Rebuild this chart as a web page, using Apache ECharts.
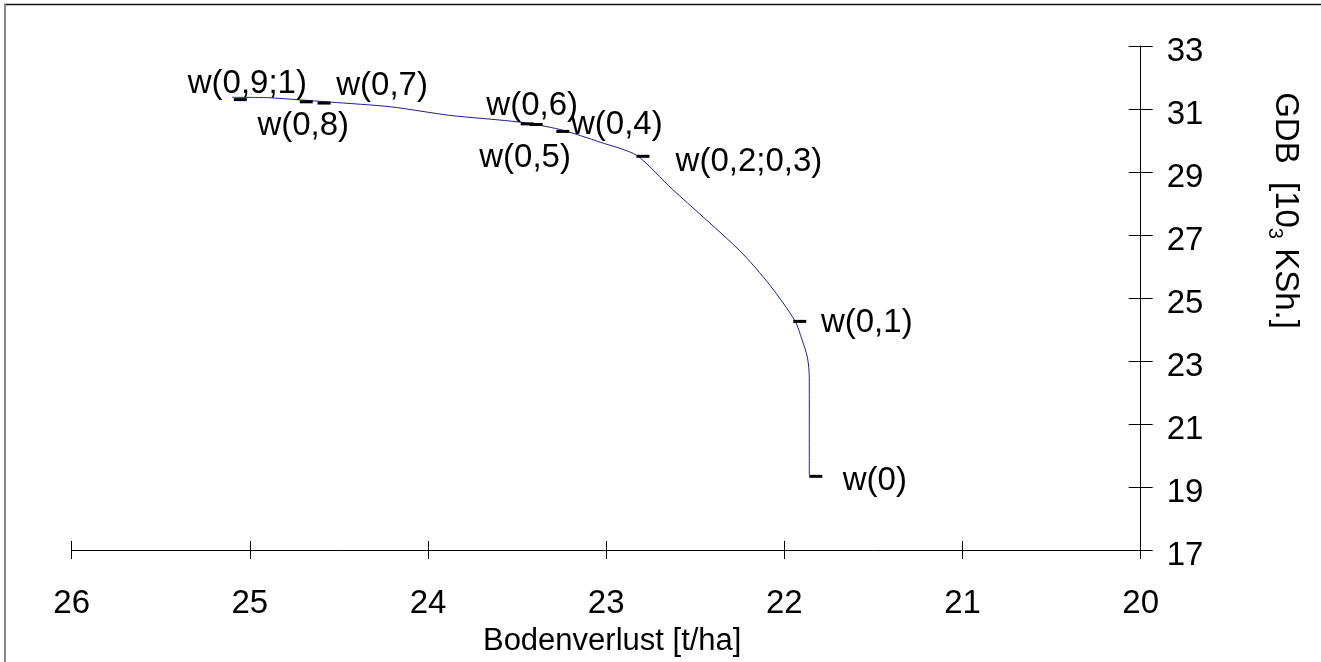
<!DOCTYPE html>
<html>
<head>
<meta charset="utf-8">
<script src="https://cdn.jsdelivr.net/npm/echarts@6/dist/echarts.min.js"></script>
<style>
html,body{margin:0;padding:0;background:#fff;overflow:hidden;}
#chart{position:absolute;left:0;top:0;width:1321px;height:662px;}
</style>
</head>
<body>
<div id="chart"></div>
<script>
// ---- data ----
const pointLabels = ['w(0,9;1)', 'w(0,8)', 'w(0,7)', 'w(0,6)', 'w(0,5)', 'w(0,4)', 'w(0,2;0,3)', 'w(0,1)', 'w(0)'];
const pointLoss = [25.09, 24.72, 24.62, 23.48, 23.43, 23.28, 22.83, 21.95, 21.86];
const pointGdb  = [31.33, 31.26, 31.22, 30.56, 30.54, 30.32, 29.53, 24.29, 19.37];

const curveLoss = [25.10, 24.90, 24.72, 24.55, 24.21, 23.88, 23.48, 23.26, 23.03, 22.83, 22.63, 22.25, 22.08, 21.94, 21.90, 21.87, 21.86, 21.86];
const curveGdb  = [31.37, 31.36, 31.29, 31.22, 31.07, 30.80, 30.58, 30.35, 29.94, 29.53, 28.46, 26.50, 25.40, 24.27, 23.66, 23.10, 22.47, 19.38];

const xTicks = [20, 21, 22, 23, 24, 25, 26];
const yTicks = [17, 19, 21, 23, 25, 27, 29, 31, 33];

const xName = 'Bodenverlust [t/ha]';
const yName = 'GDB  [10{s|3} KSh.]';

// ---- layout (label offsets from marker centre, px) ----
const labelOffsets = [[7, -16], [-3, 24], [58, -17], [5, -18], [-11, 33], [54, -7], [106, 6], [67, 2], [59, 5]];

const FONT = 'Liberation Sans, Arial, sans-serif';
const FS = 33;

const el = document.getElementById('chart');
const chart = echarts.init(el, null, {renderer: 'canvas', width: 1321, height: 662});

const curveData = curveLoss.map((v, i) => [v, curveGdb[i]]);
const pointData = pointLoss.map((v, i) => ({
  value: [v, pointGdb[i]],
  name: pointLabels[i],
  label: {offset: labelOffsets[i]}
}));

const grid = {left: 71.7, right: 180.3, top: 46, bottom: 108.7, containLabel: false};

const baseX = {
  type: 'value', min: 20, max: 26, interval: 1, inverse: true, position: 'bottom',
  splitLine: {show: false}
};
const baseY = {
  type: 'value', min: 17, max: 33, position: 'right',
  splitLine: {show: false}
};

chart.setOption({
  animation: false,
  backgroundColor: '#ffffff',
  grid: grid,
  xAxis: [
    Object.assign({}, baseX, {
      axisLine: {show: true, onZero: false, lineStyle: {color: '#000', width: 1}},
      axisTick: {show: true, inside: false, length: 9, lineStyle: {color: '#000', width: 1}},
      axisLabel: {show: true, margin: 37, fontSize: FS, fontFamily: FONT, color: '#000',
        customValues: xTicks},
      name: xName, nameLocation: 'middle', nameGap: 76,
      nameTextStyle: {fontSize: 31, fontFamily: FONT, color: '#000', padding: [0, 0, 0, 12]}
    }),
    Object.assign({}, baseX, {
      axisLine: {show: false, onZero: false},
      axisTick: {show: true, inside: true, length: 9, lineStyle: {color: '#000', width: 1}},
      axisLabel: {show: false}
    })
  ],
  yAxis: [
    Object.assign({}, baseY, {
      axisLine: {show: true, onZero: false, lineStyle: {color: '#000', width: 1}},
      axisTick: {show: true, inside: false, length: 12, customValues: yTicks, lineStyle: {color: '#000', width: 1}},
      axisLabel: {show: true, margin: 26, fontSize: FS, fontFamily: FONT, color: '#000',
        verticalAlign: 'top', lineHeight: 12, customValues: yTicks},
      name: yName, nameLocation: 'middle', nameRotate: -90, nameGap: 124,
      nameTextStyle: {fontSize: FS, fontFamily: FONT, color: '#000', padding: [0, 175, 0, 0],
        rich: {s: {fontSize: 20, fontFamily: FONT, color: '#000', verticalAlign: 'bottom', lineHeight: 40}}}
    }),
    Object.assign({}, baseY, {
      axisLine: {show: false, onZero: false},
      axisTick: {show: true, inside: true, length: 12, customValues: yTicks, lineStyle: {color: '#000', width: 1}},
      axisLabel: {show: false}
    })
  ],
  graphic: [
    {type: 'line', shape: {x1: 4, y1: 4.5, x2: 1321, y2: 4.5}, style: {stroke: '#111', lineWidth: 1.5}, silent: true},
    {type: 'line', shape: {x1: 5, y1: 4, x2: 5, y2: 662}, style: {stroke: '#888', lineWidth: 2}, silent: true}
  ],
  series: [
    {
      type: 'line', name: 'curve', data: curveData, showSymbol: false, symbol: 'none',
      lineStyle: {color: '#1c1c9a', width: 1}, smooth: 0.25, z: 2
    },
    {
      type: 'scatter', name: 'points', data: pointData,
      symbol: 'rect', symbolSize: [13, 3], symbolOffset: [6.5, 1],
      itemStyle: {color: '#000', opacity: 1}, z: 3,
      label: {
        show: true, position: 'inside', align: 'center', verticalAlign: 'middle',
        formatter: p => p.name, fontSize: FS, fontFamily: FONT, color: '#000',
        textBorderWidth: 0, opacity: 1
      }
    }
  ]
});
</script>
</body>
</html>
